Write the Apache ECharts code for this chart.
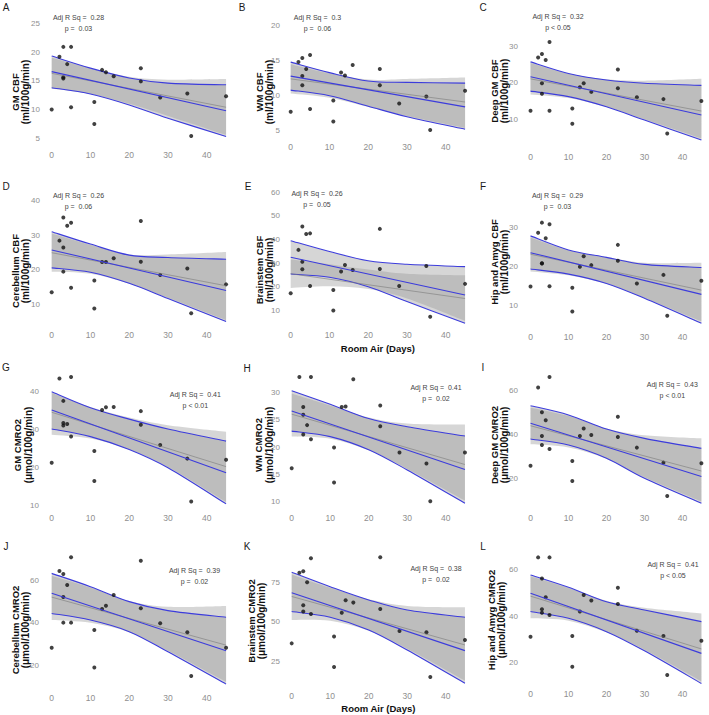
<!DOCTYPE html>
<html>
<head>
<meta charset="utf-8">
<script src="https://cdn.jsdelivr.net/npm/echarts@6/dist/echarts.min.js"></script>
<style>
  html, body { margin: 0; background: #fff; }
  #chart { width: 709px; height: 715px; }
</style>
</head>
<body>
<div id="chart"></div>
<script>
// days on room air, same for every panel
const days = [0, 2, 3, 3, 3, 4, 5, 5, 11, 11, 13, 14, 16, 23, 23, 28, 35, 36, 45];
const xTicks = [0, 10, 20, 30, 40];
const bandX = [0, 10, 20, 30, 45];
const fitX = [0, 45];

const letters = ["A", "B", "C", "D", "E", "F", "G", "H", "I", "J", "K", "L"];
const regions = ["GM", "WM", "Deep GM", "Cerebellum", "Brainstem", "Hip and Amyg"];
const adjRSq = ["0.28", "0.3", "0.32", "0.26", "0.26", "0.29", "0.41", "0.41", "0.43", "0.39", "0.38", "0.41"];
const pText = ["p =  0.03", "p =  0.06", "p < 0.05", "p =  0.06", "p =  0.05", "p =  0.03",
  "p < 0.01", "p =  0.02", "p < 0.01", "p =  0.02", "p =  0.02", "p < 0.05"];
const yTicks = [
  [5, 10, 15, 20, 25], [5, 10, 15, 20], [10, 20, 30],
  [10, 20, 30, 40], [10, 20, 30, 40, 50, 60], [10, 20, 30],
  [10, 20, 30, 40], [10, 15, 20, 25, 30], [20, 40, 60],
  [20, 40, 60], [25, 50, 75], [20, 40, 60]
];

// measured values (one per entry of days)
const gmCbf = [10.0, 19.2, 20.9, 15.6, 15.4, 17.9, 20.9, 10.4, 11.3, 7.5, 16.9, 16.5, 15.8, 17.2, 14.9, 12.1, 12.8, 5.4, 12.3];
const wmCbf = [7.6, 14.7, 15.3, 12.7, 11.4, 13.7, 15.7, 8.0, 9.2, 6.2, 13.2, 12.8, 14.3, 13.7, 11.4, 8.8, 9.8, 5.0, 10.6];
const deepGmCbf = [12.3, 27.0, 28.0, 19.9, 17.0, 26.3, 31.3, 12.3, 12.9, 8.7, 18.8, 19.9, 17.5, 23.7, 18.5, 16.0, 15.5, 6.0, 15.0];
const cerebCbf = [13.4, 28.4, 35.1, 26.4, 19.4, 32.7, 33.6, 14.7, 16.8, 8.7, 22.2, 22.2, 23.3, 34.1, 22.3, 18.4, 20.3, 7.3, 15.7];
const brainCbf = [17.2, 35.6, 45.5, 30.6, 27.4, 42.3, 42.6, 20.3, 18.6, 9.9, 26.4, 29.2, 27.1, 44.5, 27.5, 20.3, 28.8, 7.3, 21.2];
const hipCbf = [14.9, 28.7, 31.3, 20.8, 20.9, 27.3, 30.9, 15.0, 14.6, 8.5, 20.0, 22.7, 20.4, 25.6, 21.5, 15.7, 17.9, 7.4, 16.4];
const gmCmro2 = [21.1, 43.3, 37.4, 31.6, 30.9, 31.3, 43.7, 28.0, 24.2, 16.3, 35.0, 35.7, 35.8, 34.7, 31.1, 25.8, 22.2, 10.9, 21.9];
const wmCmro2 = [16.1, 32.8, 27.3, 25.9, 22.3, 24.0, 32.8, 21.4, 19.9, 13.5, 27.3, 27.4, 32.4, 27.6, 23.8, 19.0, 17.0, 10.1, 19.0];
const deepGmCmro2 = [25.7, 61.1, 49.9, 39.2, 35.1, 46.3, 65.9, 33.3, 27.8, 18.8, 39.2, 42.6, 39.6, 47.9, 38.7, 33.9, 27.1, 12.0, 26.8];
const cerebCmro2 = [28.4, 64.2, 62.8, 52.1, 40.1, 57.7, 70.6, 40.1, 36.7, 19.2, 46.5, 48.0, 53.0, 69.0, 46.8, 39.8, 35.6, 15.2, 28.4];
const brainCmro2 = [36.2, 81.1, 82.0, 60.4, 56.4, 75.0, 90.3, 54.9, 40.5, 21.2, 55.7, 63.6, 62.1, 90.9, 58.1, 44.1, 43.2, 14.8, 38.3];
const hipCmro2 = [31.1, 65.1, 56.1, 42.9, 41.4, 48.0, 65.1, 40.4, 31.4, 18.3, 41.9, 49.0, 46.6, 52.1, 45.1, 33.7, 31.4, 14.7, 29.4];
const values = [gmCbf, wmCbf, deepGmCbf, cerebCbf, brainCbf, hipCbf,
  gmCmro2, wmCmro2, deepGmCmro2, cerebCmro2, brainCmro2, hipCmro2];

// blue fit (at fitX) and its confidence limits (at bandX)
const blueFit = [[16.6, 9.8], [12.7, 8.3], [21.7, 11.1], [25.7, 13.9], [32.5, 16.5], [23.6, 12.9],
  [35.0, 18.5], [26.6, 15.9], [44.9, 20.8], [53.8, 27.0], [68.4, 31.6], [49.7, 24.0]];
const blueUpper = [
  [19.3, 17.2, 15.5, 14.6, 14.3], [14.7, 13.2, 12.0, 11.8, 11.7], [25.8, 22.6, 20.8, 19.9, 19.3],
  [31.0, 27.4, 24.2, 23.5, 23.0], [39.5, 34.9, 31.0, 29.5, 28.5], [27.9, 24.3, 22.4, 20.6, 19.8],
  [39.8, 35.6, 32.6, 30.0, 26.8], [30.3, 27.8, 25.2, 23.7, 22.0], [52.9, 48.7, 42.3, 38.1, 33.6],
  [63.1, 56.9, 49.9, 45.7, 42.6], [81.4, 72.2, 63.8, 57.4, 52.8], [57.6, 52.3, 46.1, 42.6, 37.6]];
const blueLower = [
  [13.8, 12.7, 10.8, 8.5, 5.3], [10.7, 9.9, 8.4, 6.9, 5.1], [17.7, 16.2, 13.4, 9.7, 4.2],
  [20.5, 19.2, 16.0, 11.6, 4.9], [25.4, 24.0, 20.0, 13.7, 4.5], [19.4, 18.1, 15.7, 11.9, 5.5],
  [30.0, 28.0, 24.6, 19.8, 10.3], [22.9, 21.9, 19.5, 15.8, 9.7], [37.8, 35.1, 29.1, 20.0, 8.7],
  [44.4, 41.3, 35.9, 26.5, 11.4], [56.4, 52.8, 44.7, 32.0, 10.8], [41.9, 39.0, 33.3, 25.1, 11.1]];
// grey fit and its band
const greyFit = [[16.3, 10.4], [12.3, 9.0], [21.1, 12.2], [24.9, 15.3], [25.5, 15.0], [23.2, 14.0],
  [34.4, 20.1], [26.0, 16.8], [43.8, 23.3], [52.0, 29.6], [66.0, 35.2], [48.5, 25.9]];
const greyUpper = [
  [19.0, 17.2, 15.7, 15.2, 15.3], [14.4, 13.1, 12.2, 12.3, 12.5], [25.5, 22.5, 21.0, 20.6, 21.1],
  [30.5, 27.2, 24.4, 24.4, 25.1], [31.5, 29.5, 27.3, 25.5, 24.8], [27.5, 24.2, 22.5, 21.0, 21.0],
  [39.5, 35.8, 33.0, 31.0, 29.3], [29.8, 27.6, 25.4, 24.3, 24.1], [52.0, 48.3, 42.6, 39.5, 38.1],
  [62.0, 56.5, 50.2, 47.5, 47.9], [80.0, 71.5, 64.2, 60.0, 59.1], [57.0, 52.0, 46.5, 43.5, 41.1]];
const greyLower = [
  [13.6, 12.7, 11.0, 8.9, 5.6], [10.2, 9.6, 8.3, 7.0, 5.3], [16.8, 15.8, 13.3, 9.9, 4.6],
  [19.4, 18.8, 15.9, 11.8, 5.3], [19.5, 20.2, 19.0, 15.0, 5.5], [18.8, 17.8, 15.6, 12.0, 6.0],
  [28.5, 27.5, 24.6, 20.0, 10.8], [21.9, 21.5, 19.4, 16.0, 10.2], [35.4, 34.0, 28.9, 20.5, 9.5],
  [41.3, 40.0, 35.6, 27.0, 12.5], [51.1, 50.5, 44.2, 32.8, 12.5], [39.0, 38.0, 33.0, 25.5, 12.0]];

// panel geometry (pixels): x of day 0 and day 40, two y ticks, label rows, text anchors
const layout = [
  { x0: 51.7, x40: 206.7, ya: [25, 23.3], yb: [5, 138.3], labY: 155, labR: 40, letter: [6, 7], note: [78.5, 23], title: [15, 25, 92] },
  { x0: 290.7, x40: 445.7, ya: [20, 25], yb: [5, 130], labY: 146.7, labR: 280, letter: [242, 7], note: [317.5, 23], title: [259.5, 269.5, 92] },
  { x0: 530.7, x40: 686, ya: [30, 46.7], yb: [10, 119], labY: 156.7, labR: 518, letter: [483, 7], note: [558, 22], title: [494, 504, 91] },
  { x0: 51.7, x40: 206.7, ya: [40, 200.7], yb: [10, 304], labY: 335, labR: 40, letter: [6, 186], note: [78.5, 200.5], title: [15, 25.5, 271] },
  { x0: 290.7, x40: 445.7, ya: [60, 192.3], yb: [10, 310.3], labY: 335, labR: 280, letter: [248, 186], note: [317, 199], title: [259, 269, 270] },
  { x0: 530.7, x40: 686, ya: [30, 227.7], yb: [10, 305.7], labY: 336.7, labR: 518, letter: [483, 186], note: [557.5, 201], title: [494.5, 504.5, 262] },
  { x0: 51.7, x40: 206.7, ya: [40, 391], yb: [10, 505], labY: 518.3, labR: 39, letter: [6, 367], note: [195.3, 400], title: [17.5, 28, 445] },
  { x0: 291.7, x40: 445.7, ya: [30, 392.3], yb: [10, 501.7], labY: 517.7, labR: 280, letter: [247, 368], note: [436, 393], title: [258.5, 269, 445] },
  { x0: 530.7, x40: 686, ya: [60, 390], yb: [20, 478.3], labY: 518.3, labR: 518, letter: [483, 367], note: [672.3, 390], title: [494, 504.5, 445] },
  { x0: 51.7, x40: 206.7, ya: [60, 580], yb: [20, 665.7], labY: 698.3, labR: 39, letter: [6, 546], note: [194.5, 576], title: [15, 25.5, 630] },
  { x0: 291.7, x40: 445.7, ya: [75, 582.3], yb: [25, 661], labY: 695.7, labR: 280, letter: [247, 546], note: [436, 574], title: [251, 261.5, 621] },
  { x0: 530.7, x40: 686, ya: [60, 569.3], yb: [20, 662.7], labY: 694.3, labR: 518, letter: [483, 546], note: [673, 570], title: [491, 501.5, 620] }
];

const FONT = "Liberation Sans";
const BLUE = "#3c3cdc";
const BAND = "rgba(153,153,153,0.4)";

// catmull-rom through pixel points -> svg path commands
function curve(pts, move) {
  let d = (move ? "M" : "L") + pts[0][0] + "," + pts[0][1];
  for (let k = 0; k < pts.length - 1; k++) {
    const p0 = pts[Math.max(k - 1, 0)], p1 = pts[k], p2 = pts[k + 1], p3 = pts[Math.min(k + 2, pts.length - 1)];
    d += " C" + (p1[0] + (p2[0] - p0[0]) / 6) + "," + (p1[1] + (p2[1] - p0[1]) / 6) + " " +
      (p2[0] - (p3[0] - p1[0]) / 6) + "," + (p2[1] - (p3[1] - p1[1]) / 6) + " " + p2[0] + "," + p2[1];
  }
  return d;
}

function bandSeries(i, lo, up, withLines) {
  return {
    type: "custom", xAxisIndex: i, yAxisIndex: i, silent: true, clip: false,
    data: [[bandX[0], lo[0]]],
    renderItem: (params, api) => {
      const upPts = bandX.map((x, k) => api.coord([x, up[k]]));
      const loPts = bandX.map((x, k) => api.coord([x, lo[k]])).reverse();
      const children = [{ type: "path", shape: { pathData: curve(upPts, true) + " " + curve(loPts, false) + " Z" },
        style: { fill: BAND, stroke: null } }];
      if (withLines) {
        [upPts, loPts].forEach((pts) => children.push({ type: "path", shape: { pathData: curve(pts, true) },
          style: { fill: null, stroke: BLUE, lineWidth: 1.1 } }));
      }
      return { type: "group", children: children };
    }
  };
}

const grid = [], xAxis = [], yAxis = [], series = [], graphic = [];

layout.forEach((L, i) => {
  const sx = (L.x40 - L.x0) / 40;
  const sy = (L.yb[1] - L.ya[1]) / (L.ya[0] - L.yb[0]);
  const top = L.ya[1] - 3;
  const bottom = L.labY - 8;
  const left = L.x0 - 2 * sx;
  grid.push({ left: left, top: top, width: 49 * sx, height: bottom - top });

  const showName = i === 4 || i === 10;
  xAxis.push({
    gridIndex: i, type: "value", min: -2, max: 47,
    axisLine: { show: false }, axisTick: { show: false }, splitLine: { show: false },
    axisLabel: { customValues: xTicks, margin: L.labY - bottom - 4.5, color: "#8f8f8f", fontSize: 8.5, fontFamily: FONT },
    name: showName ? "Room Air (Days)" : "", nameLocation: "middle", nameGap: 16,
    nameTextStyle: { fontFamily: FONT, fontWeight: "bold", fontSize: 9.5, color: "#111" }
  });
  yAxis.push({
    gridIndex: i, type: "value",
    max: L.ya[0] + (L.ya[1] - top) / sy,
    min: L.ya[0] - (bottom - L.ya[1]) / sy,
    axisLine: { show: false }, axisTick: { show: false }, splitLine: { show: false },
    axisLabel: { customValues: yTicks[i], margin: left - L.labR, color: "#8f8f8f", fontSize: 8, fontFamily: FONT }
  });

  const ax = { xAxisIndex: i, yAxisIndex: i, silent: true, clip: false, symbol: "none" };
  series.push(bandSeries(i, greyLower[i], greyUpper[i], false));
  series.push(Object.assign({ type: "line", lineStyle: { color: "#7a7a7a", width: 0.6 },
    data: fitX.map((x, k) => [x, greyFit[i][k]]) }, ax));
  series.push(bandSeries(i, blueLower[i], blueUpper[i], true));
  series.push(Object.assign({ type: "line", lineStyle: { color: BLUE, width: 1.1 },
    data: fitX.map((x, k) => [x, blueFit[i][k]]) }, ax));
  series.push({ type: "scatter", xAxisIndex: i, yAxisIndex: i, silent: true, clip: false,
    symbolSize: 4, itemStyle: { color: "#111" },
    data: days.map((d, k) => [d, values[i][k]]) });

  // panel letter, fit annotation, y-axis title (two lines)
  graphic.push({ type: "text", x: L.letter[0], y: L.letter[1],
    style: { text: letters[i], font: "10px " + FONT, fill: "#1a1a1a", align: "center", verticalAlign: "middle" } });
  graphic.push({ type: "text", x: L.note[0], y: L.note[1],
    style: { text: "Adj R Sq =  " + adjRSq[i] + "\n" + pText[i], font: "7px " + FONT, lineHeight: 11,
      fill: "#444", align: "center", verticalAlign: "middle" } });
  const unit = i < 6 ? "(ml/100g/min)" : "(\u03bcmol/100g/min)";
  const measure = i < 6 ? " CBF" : " CMRO2";
  graphic.push({ type: "text", x: L.title[0], y: L.title[2], rotation: Math.PI / 2,
    style: { text: regions[i % 6] + measure, font: "bold 9.5px " + FONT, fill: "#111", align: "center", verticalAlign: "middle" } });
  graphic.push({ type: "text", x: L.title[1], y: L.title[2], rotation: Math.PI / 2,
    style: { text: unit, font: "bold 10px " + FONT, fill: "#111", align: "center", verticalAlign: "middle" } });
});

const chart = echarts.init(document.getElementById("chart"), null, { renderer: "svg" });
chart.setOption({
  animation: false,
  backgroundColor: "#fff",
  grid: grid,
  xAxis: xAxis,
  yAxis: yAxis,
  series: series,
  graphic: graphic
});
</script>
</body>
</html>
